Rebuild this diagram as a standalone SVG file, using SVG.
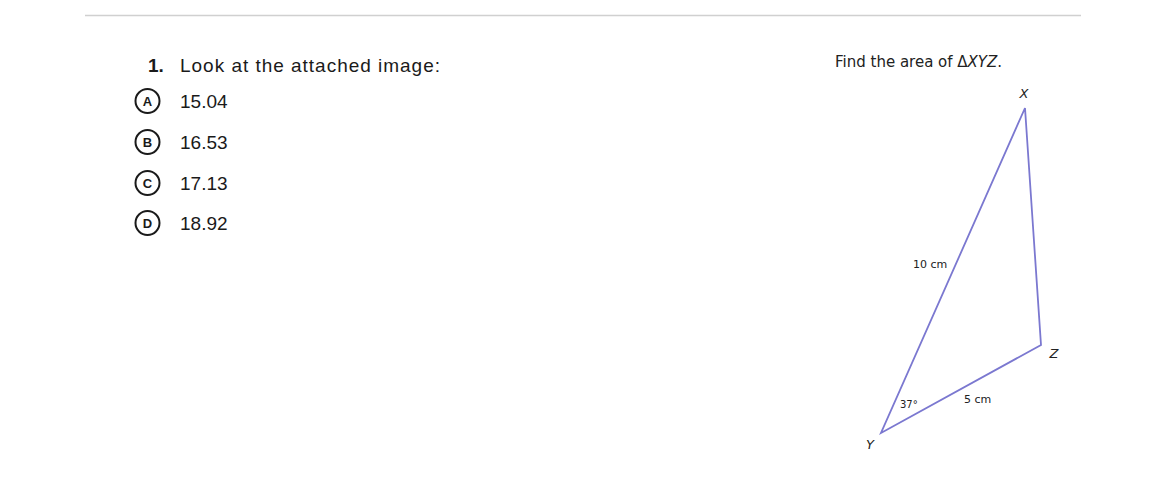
<svg xmlns="http://www.w3.org/2000/svg" width="1164" height="500" viewBox="0 0 1164 500">
<style>
.q{font-family:"Liberation Sans",Arial,sans-serif;font-size:19px;fill:#1a1a1a}
.opt circle{fill:#fff;stroke:#1a1a1a;stroke-width:2}
.opt .l{font-family:"Liberation Sans",Arial,sans-serif;font-size:13px;font-weight:bold;fill:#1a1a1a;text-anchor:middle}
.v{font-family:"DejaVu Sans",Verdana,sans-serif;fill:#222}
.tri{fill:none;stroke:#7b78d0;stroke-width:1.8}
</style>
<rect width="1164" height="500" fill="#fff"/>
<line x1="85" y1="15.5" x2="1081" y2="15.5" stroke="#d0d0d0" stroke-width="1.5"/>
<g id="question">
<text x="148" y="72" class="q" font-weight="bold" font-size="22">1.</text>
<text x="180" y="72" class="q" font-size="20" textLength="260" lengthAdjust="spacing">Look at the attached image:</text>
</g>
<g id="optA" class="opt"><circle cx="147.5" cy="101" r="12"/><text class="l" x="147.5" y="105.5">A</text><text class="q" x="180" y="108">15.04</text></g>
<g id="optB" class="opt"><circle cx="147.5" cy="142" r="12"/><text class="l" x="147.5" y="146.5">B</text><text class="q" x="180" y="149">16.53</text></g>
<g id="optC" class="opt"><circle cx="147.5" cy="183" r="12"/><text class="l" x="147.5" y="187.5">C</text><text class="q" x="180" y="190">17.13</text></g>
<g id="optD" class="opt"><circle cx="147.5" cy="223" r="12"/><text class="l" x="147.5" y="227.5">D</text><text class="q" x="180" y="230">18.92</text></g>
<g id="figure">
<text class="v" x="835" y="67" font-size="15">Find the area of Δ<tspan font-style="italic">XYZ</tspan>.</text>
<polygon class="tri" points="1025,108 1041,345 881,433"/>
<text class="v" x="1024" y="98" font-size="13" font-style="italic" text-anchor="middle">X</text>
<text class="v" x="1054" y="358" font-size="13" font-style="italic" text-anchor="middle">Z</text>
<text class="v" x="870" y="449" font-size="13" font-style="italic" text-anchor="middle">Y</text>
<text class="v" x="913" y="268" font-size="11">10 cm</text>
<text class="v" x="964" y="403" font-size="11">5 cm</text>
<text class="v" x="900" y="408" font-size="10">37°</text>
</g>
</svg>
